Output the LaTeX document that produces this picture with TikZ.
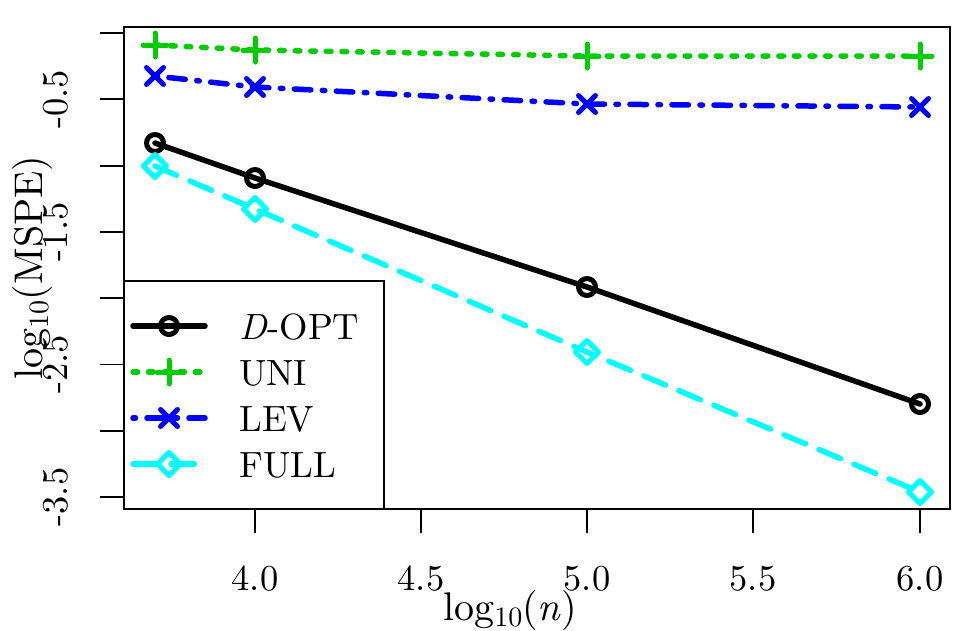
\documentclass[tikz,border=0pt]{standalone}
\usepackage{fontspec}
\setmainfont{lmroman10-regular.otf}[ItalicFont=lmroman10-italic.otf]
\definecolor{rgreen}{HTML}{00CD00}
\definecolor{rblue}{HTML}{0000FF}
\definecolor{rcyan}{HTML}{00FFFF}
\newcommand{\lgten}{log\raisebox{-0.17em}{\fontsize{28}{32}\selectfont 10}}
\tikzset{
  lbl/.style={font=\fontsize{36.5}{44}\selectfont, inner sep=0pt},
  axlbl/.style={font=\fontsize{40}{48}\selectfont, inner sep=0pt},
  frame/.style={line width=1.8pt},
  tickline/.style={line width=1.8pt},
  dat/.style={line width=5.5pt, line cap=round, line join=round},
  dotpat/.style={dash pattern=on 4.5pt off 11.1pt},
  dotdashpat/.style={dash pattern=on 2.5pt off 11.5pt on 16.5pt off 11.5pt},
  dashpat/.style={dash pattern=on 23.5pt off 14.5pt},
  mk/.style={line width=5pt, line cap=round, line join=round},
  mcirc/.pic={\draw[mk] (0,0) circle (8.5);},
  mplus/.pic={\draw[mk] (-12,0) -- (12,0) (0,-12) -- (0,12);},
  mcross/.pic={\draw[mk] (-8.5,-8.5) -- (8.5,8.5) (-8.5,8.5) -- (8.5,-8.5);},
  mdiam/.pic={\draw[mk] (0,-11.5) -- (11.5,0) -- (0,11.5) -- (-11.5,0) -- cycle;}
}
\begin{document}
\begin{tikzpicture}[x=1pt,y=-1pt]
\useasboundingbox (0,0) rectangle (969,630);

% data points
\coordinate (d1) at (155,143); \coordinate (d2) at (255,178);
\coordinate (d3) at (587,287); \coordinate (d4) at (920,404);
\coordinate (u1) at (155,45);  \coordinate (u2) at (255,50);
\coordinate (u3) at (587,56);  \coordinate (u4) at (920,56);
\coordinate (l1) at (155,76);  \coordinate (l2) at (255,87);
\coordinate (l3) at (587,104); \coordinate (l4) at (920,107);
\coordinate (f1) at (155,166); \coordinate (f2) at (255,209);
\coordinate (f3) at (587,352); \coordinate (f4) at (920,492);

% lines
\draw[dat, black] (d1) -- (d2) -- (d3) -- (d4);
\draw[dat, rgreen, dotpat] (u1) -- (u2) -- (u3) -- (u4);
\draw[dat, rblue, dotdashpat] (l1) -- (l2) -- (l3) -- (l4);
\draw[dat, rcyan, dashpat] (f1) -- (f2) -- (f3) -- (f4);

% markers
\foreach \p in {d1,d2,d3,d4} \pic[black] at (\p) {mcirc};
\foreach \p in {u1,u2,u3,u4} \pic[rgreen] at (\p) {mplus};
\foreach \p in {l1,l2,l3,l4} \pic[rblue] at (\p) {mcross};
\foreach \p in {f1,f2,f3,f4} \pic[rcyan] at (\p) {mdiam};

% plot frame
\draw[frame] (124,27) rectangle (950,509);

% x ticks
\foreach \xv/\t in {255/4.0, 421/4.5, 587/5.0, 753/5.5, 920/6.0} {
  \draw[tickline] (\xv,509) -- (\xv,533);
  \node[lbl, anchor=base] at (\xv,590) {\t};
}
% y ticks
\foreach \yv in {33, 99.3, 165.6, 231.9, 298.2, 364.5, 430.8, 497.1}
  \draw[tickline] (124,\yv) -- (100,\yv);
\foreach \yv/\t in {99.3/-0.5, 231.9/-1.5, 364.5/-2.5, 497.1/-3.5}
  \node[lbl, rotate=90, anchor=base] at (67,\yv) {\t};

% axis labels
\node[axlbl, anchor=base] (xlab) at (510,620) {\lgten(\textit{n})};
\node[axlbl, rotate=90, anchor=base] (ylab) at (42,267.5) {\lgten(MSPE)};

% legend
\draw[frame, fill=white] (124,281) rectangle (384,509);
\coordinate (ga) at (133,326); \coordinate (gb) at (205,326); \coordinate (gm) at (169,326);
\draw[dat, black] (ga) -- (gb); \pic[black] at (gm) {mcirc};
\node[lbl, anchor=base west] (tD) at (239,339) {\textit{D}-OPT};
\coordinate (ha) at (133,372); \coordinate (hb) at (205,372); \coordinate (hm) at (169,372);
\draw[dat, rgreen, dotpat] (ha) -- (hb); \pic[rgreen] at (hm) {mplus};
\node[lbl, anchor=base west] (tU) at (239,385) {UNI};
\coordinate (ia) at (133,418); \coordinate (ib) at (205,418); \coordinate (im) at (169,418);
\draw[dat, rblue, dotdashpat] (ia) -- (ib); \pic[rblue] at (im) {mcross};
\node[lbl, anchor=base west] (tL) at (239,431) {LEV};
\coordinate (ja) at (133,464); \coordinate (jb) at (205,464); \coordinate (jm) at (169,464);
\draw[dat, rcyan, dashpat] (ja) -- (jb); \pic[rcyan] at (jm) {mdiam};
\node[lbl, anchor=base west] (tF) at (239,477) {FULL};
\end{tikzpicture}
\end{document}
